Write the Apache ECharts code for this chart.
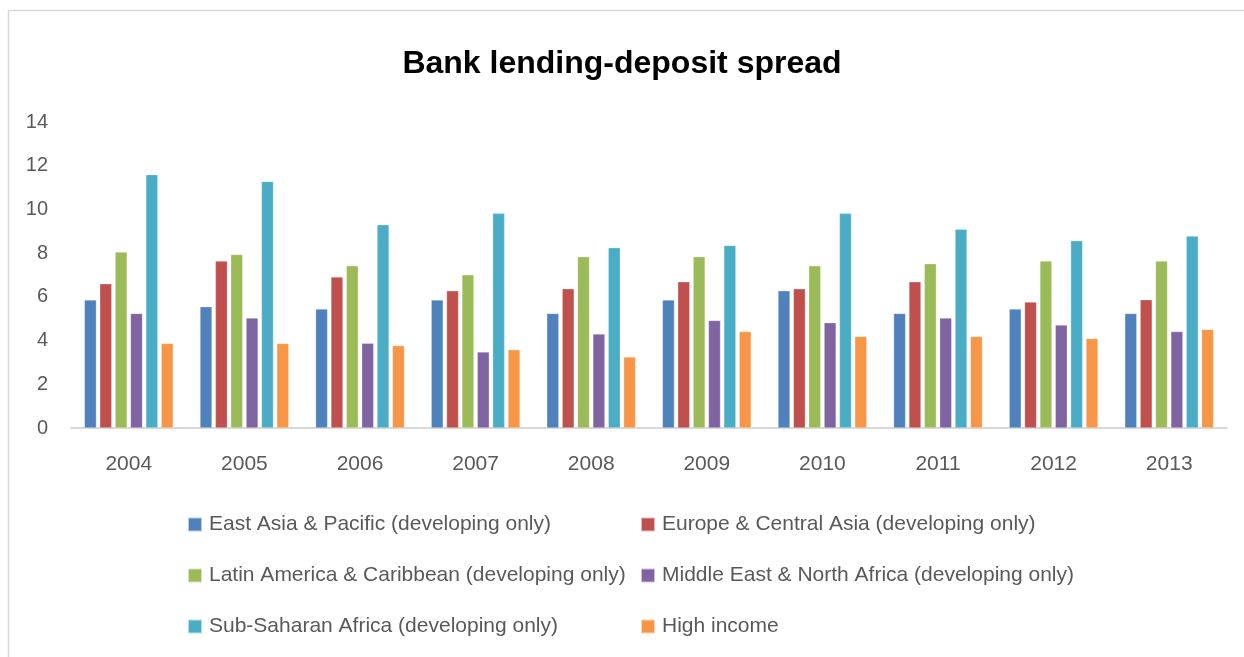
<!DOCTYPE html>
<html>
<head>
<meta charset="utf-8">
<script src="https://cdn.jsdelivr.net/npm/echarts@6/dist/echarts.min.js"></script>
<style>
html,body{margin:0;padding:0;background:#fff;}
#main{width:1244px;height:657px;}
</style>
</head>
<body>
<div id="main"></div>
<script>
const categories = ['2004','2005','2006','2007','2008','2009','2010','2011','2012','2013'];
const seriesNames = [
  'East Asia & Pacific (developing only)',
  'Europe & Central Asia (developing only)',
  'Latin America & Caribbean (developing only)',
  'Middle East & North Africa (developing only)',
  'Sub-Saharan Africa (developing only)',
  'High income'
];
const eastAsia    = [5.86, 5.55, 5.44, 5.86, 5.24, 5.86, 6.28, 5.24, 5.44, 5.24];
const europe      = [6.60, 7.64, 6.91, 6.28, 6.37, 6.69, 6.37, 6.69, 5.76, 5.87];
const latinAm     = [8.05, 7.94, 7.42, 7.01, 7.84, 7.84, 7.42, 7.52, 7.64, 7.64];
const middleEast  = [5.24, 5.03, 3.88, 3.48, 4.30, 4.92, 4.82, 5.03, 4.71, 4.41];
const subSaharan  = [11.59, 11.28, 9.30, 9.82, 8.25, 8.35, 9.82, 9.09, 8.57, 8.78];
const highIncome  = [3.87, 3.87, 3.77, 3.58, 3.25, 4.41, 4.19, 4.19, 4.09, 4.51];
const yTicks = [0, 2, 4, 6, 8, 10, 12, 14];

const colors = ['#4f81bd','#c0504d','#9bbb59','#8064a2','#4bacc6','#f79646'];
const values = [eastAsia, europe, latinAm, middleEast, subSaharan, highIncome];
const font = '"Liberation Sans", Arial, sans-serif';

const legendPos = [
  {left: 182, top: 509}, {left: 635, top: 509},
  {left: 182, top: 560}, {left: 635, top: 560},
  {left: 182, top: 611}, {left: 635, top: 611}
];

const chart = echarts.init(document.getElementById('main'));
chart.setOption({
  animation: false,
  backgroundColor: '#fff',
  color: colors,
  title: {
    text: 'Bank lending-deposit spread',
    left: 'center',
    top: 43,
    textStyle: {fontFamily: font, fontWeight: 'bold', fontSize: 32, color: '#000'}
  },
  graphic: [{
    type: 'rect',
    shape: {x: 8.5, y: 10.5, width: 1260, height: 700},
    style: {fill: 'none', stroke: '#d9d9d9', lineWidth: 1.5},
    silent: true
  }],
  legend: seriesNames.map((n, i) => ({
    data: [n],
    left: legendPos[i].left,
    top: legendPos[i].top,
    icon: 'rect',
    itemWidth: 14,
    itemHeight: 14,
    itemGap: 10,
    textStyle: {fontFamily: font, fontSize: 21, color: '#595959', padding: [0, 0, 0, 2]}
  })),
  grid: {left: 71, right: 17, top: 122, bottom: 229, containLabel: false},
  xAxis: {
    type: 'category',
    data: categories,
    axisTick: {show: false},
    axisLine: {lineStyle: {color: '#d9d9d9', width: 2}},
    axisLabel: {fontFamily: font, fontSize: 21, color: '#595959', margin: 26}
  },
  yAxis: {
    type: 'value',
    min: yTicks[0],
    max: yTicks[yTicks.length - 1],
    interval: 2,
    splitLine: {show: false},
    axisLine: {show: false},
    axisTick: {show: false},
    axisLabel: {fontFamily: font, fontSize: 20, color: '#595959', margin: 23}
  },
  series: seriesNames.map((n, i) => ({
    name: n,
    type: 'bar',
    data: values[i],
    barWidth: 12,
    barGap: '28%',
    itemStyle: {color: colors[i], borderColor: 'rgba(255,255,255,0.6)', borderWidth: 0.5}
  }))
});
</script>
</body>
</html>
